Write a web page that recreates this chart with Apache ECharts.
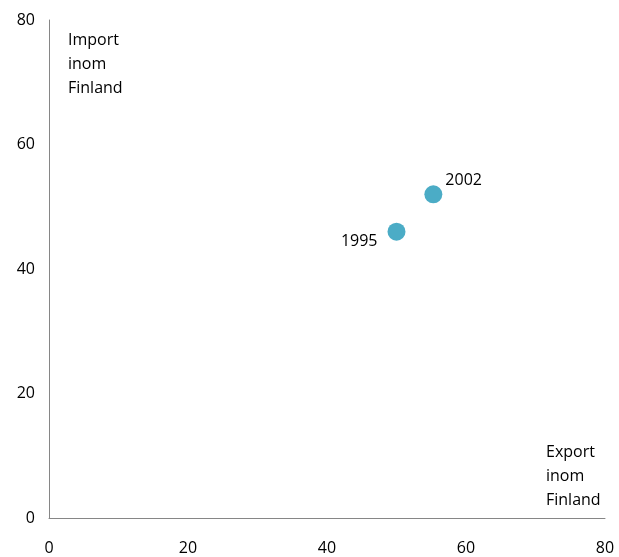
<!DOCTYPE html>
<html>
<head>
<meta charset="utf-8">
<script src="https://cdn.jsdelivr.net/npm/echarts@6/dist/echarts.min.js"></script>
<style>
  html, body { margin: 0; padding: 0; background: #fff; }
  #chart { width: 619px; height: 557px; }
</style>
</head>
<body>
<div id="chart"></div>
<script>
// år och värden (export, import)
const years = ['1995', '2002'];
const exportVals = [50, 55.3];
const importVals = [46, 52];
const labelPos = ['left', 'right'];

const font = '"Open Sans", "Liberation Sans", sans-serif';

let points = [];
years.forEach(function (y, i) {
  points.push({
    name: y,
    value: [exportVals[i], importVals[i]],
    label: {
      show: true,
      formatter: y,
      position: labelPos[i],
      offset: i == 0 ? [-5, 10] : [-2, -14],
      color: '#000',
      fontSize: 16,
      fontFamily: font
    }
  });
});

const myChart = echarts.init(document.getElementById('chart'));
myChart.setOption({
  animation: false,
  grid: { left: 49, right: 14, top: 20, bottom: 39 },
  xAxis: {
    type: 'value', min: 0, max: 80, interval: 20,
    axisLine: { show: true, lineStyle: { color: '#868686', width: 1 } },
    axisTick: { show: false },
    splitLine: { show: false },
    axisLabel: { color: '#000', fontSize: 16, fontFamily: font, margin: 22 }
  },
  yAxis: {
    type: 'value', min: 0, max: 80, interval: 20,
    axisLine: { show: true, lineStyle: { color: '#868686', width: 1 } },
    axisTick: { show: false },
    splitLine: { show: false },
    axisLabel: { color: '#000', fontSize: 16, fontFamily: font, margin: 14 }
  },
  graphic: [
    { type: 'text', left: 68, top: 28, style: { text: 'Import\ninom\nFinland', fill: '#000', font: '16px ' + font, lineHeight: 24 } },
    { type: 'text', left: 546, top: 440, style: { text: 'Export\ninom\nFinland', fill: '#000', font: '16px ' + font, lineHeight: 24 } }
  ],
  series: [{
    type: 'scatter',
    symbolSize: 18,
    itemStyle: { color: '#4BACC6', opacity: 1 },
    data: points
  }]
});
</script>
</body>
</html>
